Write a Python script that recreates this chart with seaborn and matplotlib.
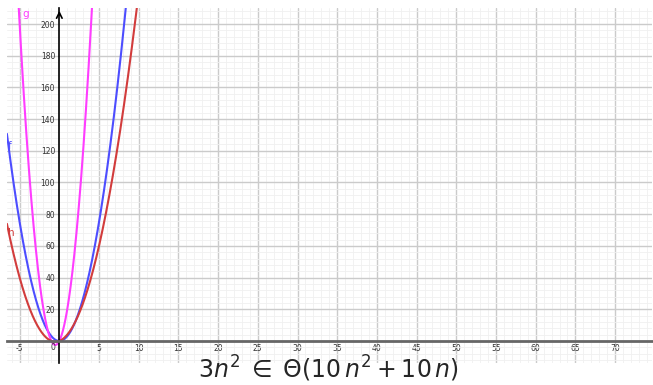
import numpy as np
import matplotlib.pyplot as plt
import seaborn as sns
from matplotlib.ticker import MultipleLocator

names = ['f', 'g', 'h']
coef_a = [3, 10, 2]
coef_b = [0, 10, 2]
colors = ['#4d4dff', '#ff3dff', '#d23c3c']
label_x = [-6.3, -4.2, -6.1]
label_y = [123, 206, 68]

x_ticks = [-5, 5, 10, 15, 20, 25, 30, 35, 40, 45, 50, 55, 60, 65, 70]
y_ticks = [20, 40, 60, 80, 100, 120, 140, 160, 180, 200]

sns.set_style('white')
plt.rcParams['mathtext.fontset'] = 'dejavusans'

fig = plt.figure(figsize=(6.53, 3.85), dpi=100)
ax = fig.add_axes([7 / 653, 22 / 385, 645 / 653, 355 / 385])

n = np.linspace(-6.6, 10, 800)
for name, a, b, c, lx, ly in zip(names, coef_a, coef_b, colors, label_x, label_y):
    sns.lineplot(x=n, y=a * n ** 2 + b * n, color=c, lw=1.5, ax=ax)
    ax.text(lx, ly, name, color=c, fontsize=7.5, ha='center', va='center')

ax.set_xlim(-6.59, 74.65)
ax.set_ylim(-13.9, 210.1)

# grid
ax.xaxis.set_minor_locator(MultipleLocator(1))
ax.yaxis.set_minor_locator(MultipleLocator(4))
ax.set_axisbelow(True)

ax.set_xticks(x_ticks)
ax.set_yticks(y_ticks)
ax.set_xticklabels([str(t) for t in x_ticks], rotation=0)
ax.set_yticklabels([str(t) for t in y_ticks])
ax.grid(which='major', color='#cbcbcb', lw=1.0)
ax.grid(which='minor', color='#f0f0f0', lw=0.6)
ax.tick_params(which='both', length=0, labelsize=5.5, labelcolor='#333333')
ax.tick_params(axis='x', pad=2.5)
ax.tick_params(axis='y', pad=3)

# axes through origin
ax.spines['left'].set_position(('data', 0))
ax.spines['bottom'].set_position(('data', 0))
ax.spines['left'].set_color('black')
ax.spines['left'].set_linewidth(1.2)
ax.spines['bottom'].set_color('#666666')
ax.spines['bottom'].set_linewidth(2)
ax.spines['top'].set_visible(False)
ax.spines['right'].set_visible(False)
ax.text(-0.45, -1.5, '0', fontsize=5.5, color='#333333', ha='right', va='top')
ax.annotate('', xy=(0, 210.1), xytext=(0, 204),
            arrowprops=dict(arrowstyle='->', color='black', lw=1.2),
            annotation_clip=False)

fig.text(0.503, 0.041, r'$3n^2 \;\in\; \Theta(10\,n^2 + 10\,n)$', fontsize=17,
         ha='center', va='center')

fig.savefig('out.png', dpi=100)
